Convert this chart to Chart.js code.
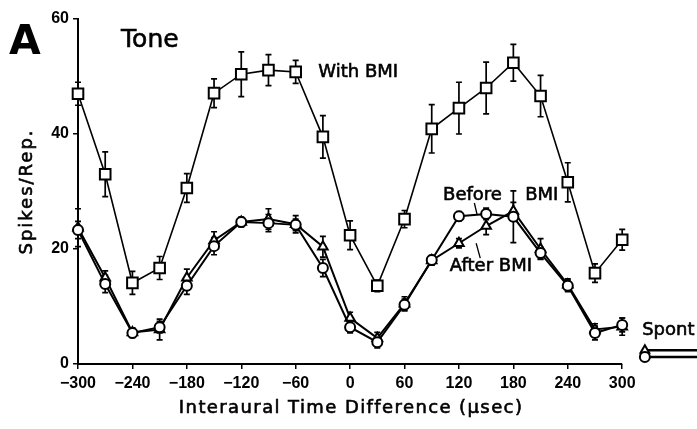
<!DOCTYPE html>
<html>
<head>
<meta charset="utf-8">
<script src="https://cdn.jsdelivr.net/npm/chart.js@4"></script>
<style>
  html, body { margin: 0; padding: 0; background: #fff; }
  #wrap { width: 697px; height: 429px; position: relative; }
</style>
</head>
<body>
<div id="wrap"><canvas id="itd" width="697" height="429"></canvas></div>
<script>
// interaural time differences (usec)
const itd = [-300, -270, -240, -210, -180, -150, -120, -90, -60, -30, 0, 30, 60, 90, 120, 150, 180, 210, 240, 270, 300];

// spikes per repetition
const withBMI   = [47.0, 33.0, 14.1, 16.7, 30.6, 47.1, 50.4, 51.1, 50.8, 39.5, 22.4, 13.6, 25.2, 40.9, 44.5, 48.0, 52.4, 46.6, 31.6, 15.8, 21.6];
const beforeBMI = [23.3, 13.9, 5.4, 6.4, 13.6, 20.5, 24.7, 24.5, 24.2, 16.7, 6.4, 3.8, 10.3, 18.1, 25.7, 26.1, 25.6, 19.3, 13.6, 5.4, 6.8];
const afterBMI  = [23.7, 15.0, 5.5, 6.0, 15.0, 21.5, 24.7, 25.2, 24.3, 20.4, 8.0, 4.5, 10.5, 18.0, 21.0, 24.0, 26.6, 20.0, 13.8, 6.0, 6.5];

// error bar half-lengths
const withErr   = [2.0, 3.9, 2.0, 2.0, 2.5, 2.5, 3.9, 2.7, 2.0, 3.7, 2.5, 1.0, 1.5, 4.2, 4.5, 4.5, 3.2, 3.6, 3.4, 1.6, 1.8];
const beforeErr = [1.5, 1.5, 0.8, 1.0, 1.5, 1.5, 0.8, 1.5, 1.0, 1.5, 1.0, 1.0, 1.0, 0.8, 0.8, 1.0, 4.5, 1.0, 1.0, 1.2, 1.2];
const afterErr  = [3.3, 1.2, 0.8, 1.8, 1.5, 1.5, 0.8, 1.8, 1.5, 1.8, 1.0, 1.0, 1.2, 0.8, 0.8, 1.5, 1.5, 1.8, 1.0, 1.0, 1.5];

// spontaneous rate, drawn past the end of the axis
const spontX = [325, 383];
const spontBefore = [1.2, 1.2];
const spontAfter  = [2.4, 2.4];

const xTicks = [-300, -240, -180, -120, -60, 0, 60, 120, 180, 240, 300];
const yTicks = [0, 20, 40, 60];

const pts = (xs, ys) => xs.map((x, i) => ({ x: x, y: ys[i] }));

// error bars drawn under the markers
const errorBars = {
  id: 'errorBars',
  beforeDatasetsDraw(chart) {
    const ctx = chart.ctx;
    const xs = chart.scales.x, ys = chart.scales.y;
    ctx.save();
    ctx.strokeStyle = '#000';
    ctx.lineWidth = 1.7;
    chart.data.datasets.forEach(ds => {
      if (!ds.err) return;
      ds.data.forEach((p, i) => {
        const px = xs.getPixelForValue(p.x);
        const top = ys.getPixelForValue(p.y + ds.err[i]);
        const bot = ys.getPixelForValue(p.y - ds.err[i]);
        ctx.beginPath();
        ctx.moveTo(px, top); ctx.lineTo(px, bot);
        ctx.moveTo(px - 3, top); ctx.lineTo(px + 3, top);
        ctx.moveTo(px - 3, bot); ctx.lineTo(px + 3, bot);
        ctx.stroke();
      });
    });
    ctx.restore();
  }
};

// heavier text, like the printed lettering
function boldText(ctx, s, x, y) {
  ctx.fillText(s, x, y);
  ctx.strokeText(s, x, y);
}

// x axis line only across the ITD range, axis titles and the text labels
const extras = {
  id: 'extras',
  afterDraw(chart) {
    const ctx = chart.ctx;
    const xs = chart.scales.x, ys = chart.scales.y;
    const X = v => xs.getPixelForValue(v), Y = v => ys.getPixelForValue(v);
    ctx.save();
    ctx.strokeStyle = '#000';
    ctx.lineWidth = 2;
    ctx.beginPath();
    ctx.moveTo(X(-300) - 1, Y(0));
    ctx.lineTo(X(300), Y(0));
    ctx.stroke();

    ctx.fillStyle = '#000';
    ctx.textBaseline = 'middle';
    ctx.lineWidth = 0.6;

    // axis titles
    ctx.textAlign = 'center';
    ctx.font = '18px "DejaVu Sans", sans-serif';
    ctx.letterSpacing = '1.4px';
    boldText(ctx, 'Interaural Time Difference (\u03bcsec)', X(0) + 1, 408);
    ctx.save();
    ctx.translate(27, (Y(0) + Y(60)) / 2);
    ctx.rotate(-Math.PI / 2);
    ctx.letterSpacing = '2px';
    boldText(ctx, 'Spikes/Rep.', 0, 0);
    ctx.restore();
    ctx.letterSpacing = '0px';

    ctx.textAlign = 'left';
    ctx.font = 'bold 41px "DejaVu Sans", sans-serif';
    ctx.fillText('A', 9, 43);
    ctx.font = '25px "DejaVu Sans", sans-serif';
    boldText(ctx, 'Tone', X(-252.5), Y(56.3));
    ctx.font = '18px "DejaVu Sans", sans-serif';
    boldText(ctx, 'With BMI', X(-35), Y(50.8));
    boldText(ctx, 'Before', X(102.5), Y(29.4));
    boldText(ctx, 'BMI', X(193), Y(29.4));
    boldText(ctx, 'After BMI', X(110), Y(16.9));
    boldText(ctx, 'Spont', X(322), Y(5.9));

    // leader lines from the labels to their markers
    ctx.lineWidth = 1.3;
    ctx.beginPath();
    ctx.moveTo(X(137), Y(28.0)); ctx.lineTo(X(140), Y(26.0));
    ctx.moveTo(X(139), Y(21.0)); ctx.lineTo(X(143.5), Y(18.4));
    ctx.stroke();
    ctx.restore();
  }
};

const tickFont = { family: '"Liberation Sans", Arial, sans-serif', size: 16, weight: 'bold' };

new Chart(document.getElementById('itd'), {
  type: 'line',
  data: {
    datasets: [
      {
        label: 'With BMI', data: pts(itd, withBMI), err: withErr,
        borderColor: '#000', borderWidth: 1.6, pointStyle: 'rect', pointRadius: 7.5,
        pointBackgroundColor: '#fff', pointBorderColor: '#000', pointBorderWidth: 2
      },
      {
        label: 'Before BMI', data: pts(itd, beforeBMI), err: beforeErr,
        borderColor: '#000', borderWidth: 2, pointStyle: 'circle', pointRadius: 5,
        pointBackgroundColor: '#fff', pointBorderColor: '#000', pointBorderWidth: 2
      },
      {
        label: 'After BMI', data: pts(itd, afterBMI), err: afterErr,
        borderColor: '#000', borderWidth: 2, pointStyle: 'triangle', pointRadius: 5.5,
        pointBackgroundColor: '#fff', pointBorderColor: '#000', pointBorderWidth: 2
      },
      {
        label: 'Spont before', data: pts(spontX, spontBefore),
        borderColor: '#000', borderWidth: 2.5, pointStyle: 'circle', pointRadius: 5,
        pointBackgroundColor: '#fff', pointBorderColor: '#000', pointBorderWidth: 2
      },
      {
        label: 'Spont after', data: pts(spontX, spontAfter),
        borderColor: '#000', borderWidth: 2.5, pointStyle: 'triangle', pointRadius: 5,
        pointBackgroundColor: '#fff', pointBorderColor: '#000', pointBorderWidth: 2
      }
    ]
  },
  options: {
    responsive: false,
    animation: false,
    clip: false,
    layout: { padding: { top: 19, right: 0, left: 0, bottom: 0 } },
    plugins: { legend: { display: false }, tooltip: { enabled: false } },
    elements: { line: { tension: 0 } },
    scales: {
      x: {
        type: 'linear', min: -300, max: 372,
        afterFit: s => { s.height = 65; },
        afterBuildTicks: s => { s.ticks = xTicks.map(v => ({ value: v })); },
        border: { display: false },
        grid: { drawOnChartArea: false, drawTicks: true, tickLength: 5, color: '#000', lineWidth: 1.5 },
        ticks: {
          color: '#000', font: tickFont, padding: 5, maxRotation: 0,
          callback: v => (v < 0 ? '\u2212' + Math.abs(v) : String(v))
        }
      },
      y: {
        min: 0, max: 60,
        afterFit: s => { s.width = 78; },
        afterBuildTicks: s => { s.ticks = yTicks.map(v => ({ value: v })); },
        border: { display: true, color: '#000', width: 2 },
        grid: { drawOnChartArea: false, drawTicks: true, tickLength: 5, color: '#000', lineWidth: 1.5 },
        ticks: { color: '#000', font: tickFont, padding: 4 }
      }
    }
  },
  plugins: [errorBars, extras]
});
</script>
</body>
</html>
